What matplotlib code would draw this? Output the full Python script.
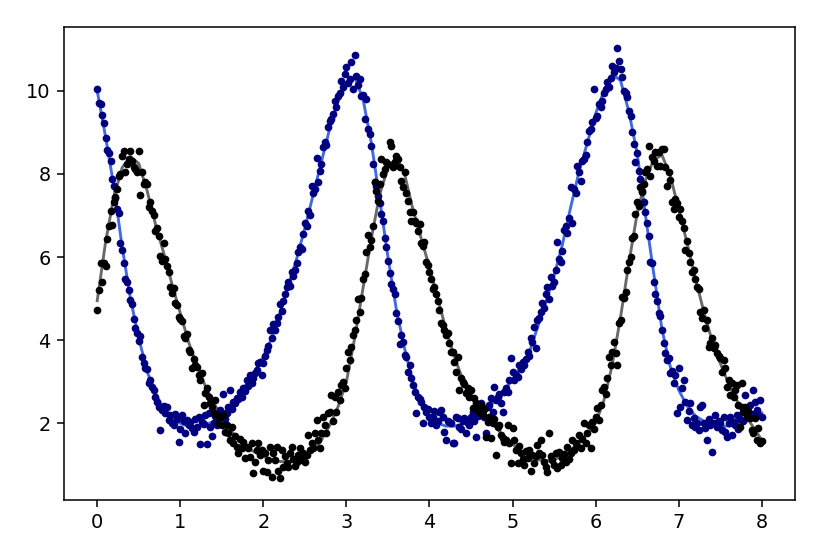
import numpy as np
import matplotlib
matplotlib.use("Agg")
import matplotlib.pyplot as plt

# time grids
T_OBS = np.linspace(0, 8, 401)   # observations every 0.02
T_FIT = np.linspace(0, 8, 81)    # fitted curves every 0.1

# fitted prey curve (blue line)
prey_fit = [
    10.0, 8.9, 7.7, 6.25, 5.0, 4.05, 3.25, 2.72, 2.35, 2.12,
    2.0, 1.92, 1.9, 1.95, 2.05, 2.2, 2.4, 2.65, 2.95, 3.25,
    3.6, 4.05, 4.65, 5.3, 5.95, 6.7, 7.5, 8.3, 9.1, 9.75,
    10.15, 10.33, 9.8, 8.75, 7.4, 6.0, 4.75, 3.8, 3.0, 2.5,
    2.15, 2.0, 1.93, 1.93, 1.98, 2.08, 2.2, 2.35, 2.58, 2.8,
    3.05, 3.35, 3.7, 4.3, 4.9, 5.55, 6.3, 7.2, 8.05, 8.75,
    9.45, 10.0, 10.4, 10.25, 9.5, 8.5, 7.0, 5.6, 4.25, 3.35,
    2.8, 2.42, 2.18, 2.05, 1.97, 1.93, 1.93, 1.96, 2.03, 2.12,
    2.25,
]

# fitted predator curve (grey line)
pred_fit = [
    4.95, 6.35, 7.45, 8.15, 8.42, 8.25, 7.6, 6.8, 6.1, 5.35,
    4.65, 3.95, 3.4, 2.9, 2.5, 2.15, 1.85, 1.6, 1.42, 1.3,
    1.2, 1.12, 1.08, 1.07, 1.1, 1.2, 1.35, 1.6, 1.95, 2.4,
    3.0, 4.05, 5.25, 6.45, 7.5, 8.15, 8.4, 8.0, 7.15, 6.45,
    5.75, 5.0, 4.25, 3.6, 3.05, 2.7, 2.35, 2.12, 1.9, 1.68,
    1.5, 1.32, 1.2, 1.12, 1.1, 1.13, 1.2, 1.35, 1.55, 1.75,
    2.0, 2.55, 3.4, 4.55, 5.85, 7.05, 7.85, 8.35, 8.45, 7.95,
    7.15, 6.35, 5.5, 4.7, 4.0, 3.45, 2.95, 2.55, 2.2, 1.9,
    1.6,
]

# noisy prey observations (navy dots)
prey_obs = [
    10.04, 9.70, 9.68, 9.42, 9.22, 8.87, 8.58, 8.50, 8.31, 7.87,
    7.72, 7.42, 7.15, 7.05, 6.33, 6.18, 5.85, 5.46, 5.40, 5.21,
    4.96, 4.86, 4.52, 4.30, 4.18, 3.98, 4.09, 3.60, 3.45, 3.34,
    3.30, 2.97, 3.05, 2.88, 2.80, 2.64, 2.52, 2.40, 1.84, 2.32,
    2.42, 2.24, 2.38, 2.08, 2.20, 2.00, 1.95, 2.22, 2.10, 1.55,
    1.85, 2.20, 2.05, 1.76, 2.08, 1.96, 2.02, 1.89, 1.78, 2.10,
    1.90, 2.15, 1.50, 2.02, 1.98, 2.20, 1.50, 2.25, 1.92, 1.70,
    2.00, 2.18, 1.95, 2.12, 2.32, 2.25, 2.70, 2.10, 2.25, 2.38,
    2.80, 2.35, 2.50, 2.48, 2.60, 2.58, 2.76, 2.62, 2.85, 2.78,
    3.05, 2.90, 3.17, 2.98, 3.10, 3.20, 3.28, 3.45, 3.48, 3.17,
    3.45, 3.62, 3.77, 3.85, 4.25, 4.05, 4.40, 4.25, 4.42, 4.55,
    4.86, 4.70, 4.95, 5.10, 5.27, 5.41, 5.30, 5.63, 5.55, 5.70,
    5.85, 6.13, 6.25, 6.20, 6.55, 6.83, 6.75, 7.10, 7.00, 7.70,
    7.55, 7.63, 8.38, 7.80, 8.07, 8.25, 8.65, 8.77, 8.70, 9.13,
    9.28, 9.32, 9.45, 9.76, 9.60, 9.88, 9.95, 10.24, 10.10, 10.41,
    10.58, 10.20, 10.29, 10.70, 10.05, 10.87, 10.35, 10.15, 10.29, 9.88,
    9.90, 9.33, 9.80, 9.09, 8.95, 8.68, 8.24, 7.80, 7.70, 7.47,
    7.30, 7.03, 6.86, 6.47, 6.23, 5.90, 5.62, 5.34, 5.22, 5.10,
    4.66, 4.45, 3.90, 4.13, 3.95, 3.65, 3.60, 3.24, 3.41, 3.10,
    2.93, 2.76, 2.25, 2.64, 2.58, 2.51, 2.00, 2.40, 2.27, 2.35,
    2.15, 2.00, 2.15, 2.30, 1.95, 2.05, 2.27, 2.32, 2.15, 1.79,
    1.60, 2.05, 2.03, 2.00, 1.52, 1.52, 2.15, 2.12, 1.91, 1.85,
    2.05, 2.12, 1.76, 2.00, 1.95, 2.15, 2.27, 2.05, 1.67, 2.18,
    2.20, 2.49, 2.30, 2.15, 1.76, 2.38, 2.45, 2.61, 2.27, 2.88,
    2.55, 2.62, 2.70, 2.49, 2.27, 2.76, 2.85, 2.76, 3.05, 3.58,
    3.24, 3.05, 3.15, 3.12, 3.41, 3.30, 3.48, 3.40, 3.55, 3.72,
    3.62, 4.06, 3.96, 4.32, 3.81, 4.49, 4.54, 4.68, 4.90, 4.78,
    5.10, 5.29, 5.00, 5.53, 5.30, 5.39, 5.70, 6.37, 5.95, 5.87,
    6.15, 6.66, 6.74, 6.59, 6.95, 7.68, 6.83, 7.63, 7.55, 8.19,
    8.04, 7.82, 8.30, 8.36, 8.45, 8.77, 9.04, 9.08, 9.25, 10.05,
    9.35, 9.40, 9.69, 9.60, 9.76, 9.95, 10.05, 10.22, 10.10, 10.30,
    10.61, 10.46, 10.55, 11.02, 10.73, 10.53, 10.34, 10.00, 9.95, 9.86,
    9.52, 9.40, 9.01, 8.72, 8.29, 8.50, 8.07, 7.87, 7.56, 7.32,
    7.08, 6.83, 6.50, 5.89, 5.85, 5.39, 5.10, 4.93, 4.66, 4.58,
    4.25, 3.94, 3.70, 3.53, 3.58, 3.21, 3.25, 2.98, 3.17, 2.25,
    3.34, 2.39, 2.85, 3.05, 2.52, 2.08, 2.30, 2.49, 1.96, 2.13,
    1.91, 2.00, 1.83, 2.39, 2.44, 2.00, 1.88, 1.59, 2.10, 1.96,
    1.31, 2.00, 2.20, 1.91, 2.05, 2.00, 1.83, 2.15, 1.79, 1.67,
    2.00, 2.15, 1.72, 2.03, 1.95, 2.20, 1.85, 2.10, 2.39, 2.05,
    2.68, 2.32, 2.15, 2.44, 2.22, 2.80, 2.51, 2.32, 2.20, 2.55,
    2.15,
]

# noisy predator observations (black dots)
pred_obs = [
    4.73, 5.21, 5.86, 5.39, 5.86, 5.78, 6.43, 6.74, 7.12, 6.76,
    7.32, 7.44, 7.63, 7.95, 7.99, 8.43, 8.55, 8.04, 8.24, 8.36,
    8.55, 8.31, 8.16, 8.12, 8.04, 8.55, 7.49, 8.05, 7.75, 7.80,
    7.75, 7.20, 7.32, 7.10, 7.00, 6.62, 6.70, 6.50, 6.02, 5.90,
    6.35, 5.95, 5.78, 5.63, 5.29, 5.14, 5.26, 4.90, 4.85, 4.56,
    4.50, 4.45, 4.09, 4.06, 4.15, 3.77, 3.72, 3.34, 3.55, 3.41,
    3.36, 3.17, 3.05, 3.20, 2.44, 2.73, 2.85, 2.64, 2.49, 2.40,
    2.25, 2.55, 2.20, 2.00, 2.15, 1.96, 2.20, 1.79, 1.96, 1.76,
    1.60, 1.90, 1.52, 1.70, 1.43, 1.28, 1.62, 1.40, 1.55, 1.16,
    1.43, 1.40, 1.19, 1.52, 0.80, 1.06, 1.35, 1.52, 1.23, 1.35,
    0.86, 1.28, 0.82, 1.11, 1.43, 0.71, 1.28, 1.11, 1.43, 0.86,
    0.67, 1.35, 0.95, 1.20, 1.04, 0.95, 1.28, 1.43, 1.15, 0.98,
    1.06, 1.23, 1.40, 1.12, 1.28, 1.06, 1.23, 1.71, 1.35, 1.52,
    1.40, 1.76, 2.08, 1.60, 1.40, 1.76, 2.15, 1.96, 1.76, 2.25,
    2.27, 2.68, 2.05, 2.64, 2.27, 2.76, 2.55, 2.93, 3.00, 2.85,
    3.34, 3.72, 3.53, 3.84, 4.13, 4.25, 4.49, 4.98, 4.68, 5.02,
    5.46, 5.58, 6.13, 6.54, 6.23, 6.42, 6.75, 7.80, 7.58, 7.34,
    7.75, 8.36, 7.99, 8.12, 8.29, 8.24, 8.77, 8.68, 8.17, 8.29,
    8.43, 8.35, 8.17, 7.82, 7.68, 8.05, 7.55, 7.35, 7.08, 6.86,
    7.08, 6.86, 6.83, 6.62, 6.79, 6.35, 6.26, 6.37, 5.87, 5.82,
    5.63, 5.46, 5.22, 5.27, 5.10, 4.93, 4.73, 4.42, 4.37, 4.25,
    4.13, 4.18, 3.94, 3.72, 3.72, 3.48, 3.24, 3.60, 2.80, 3.10,
    3.00, 2.95, 2.73, 2.85, 2.64, 2.80, 2.37, 2.61, 2.48, 2.40,
    2.27, 2.44, 2.20, 2.35, 1.67, 2.03, 2.15, 1.64, 2.00, 2.10,
    1.23, 1.91, 1.96, 1.72, 1.64, 1.55, 1.60, 1.96, 1.52, 1.04,
    1.88, 1.60, 1.35, 1.04, 1.45, 1.28, 1.15, 0.99, 1.32, 1.16,
    1.35, 0.86, 1.23, 1.05, 1.20, 1.48, 1.28, 1.60, 1.23, 1.06,
    0.95, 0.82, 1.76, 1.20, 1.11, 1.00, 1.28, 0.92, 1.30, 0.99,
    1.16, 1.25, 1.06, 1.43, 1.15, 1.28, 1.60, 1.35, 1.52, 1.45,
    1.71, 1.40, 1.62, 2.00, 1.52, 1.76, 1.95, 1.40, 2.03, 1.85,
    2.15, 2.37, 2.08, 2.44, 2.80, 2.88, 2.70, 3.10, 3.60, 3.41,
    3.72, 3.96, 3.70, 3.41, 4.42, 4.49, 5.05, 5.02, 5.17, 5.70,
    5.87, 5.99, 6.47, 6.50, 7.03, 7.32, 7.22, 7.68, 7.58, 7.75,
    8.04, 8.12, 8.68, 7.95, 8.41, 8.31, 8.53, 8.19, 8.53, 8.19,
    8.60, 8.60, 8.17, 7.70, 8.04, 7.85, 7.32, 7.15, 7.39, 7.30,
    6.96, 7.15, 6.86, 6.70, 6.18, 6.38, 6.10, 5.87, 5.63, 5.70,
    5.46, 5.29, 5.22, 4.68, 4.54, 4.72, 4.30, 4.49, 3.84, 3.94,
    4.05, 3.80, 3.89, 3.70, 3.62, 3.58, 3.24, 3.53, 3.34, 2.88,
    3.05, 2.68, 2.97, 2.64, 2.80, 2.93, 2.44, 1.91, 2.97, 2.27,
    2.39, 2.15, 2.30, 2.13, 1.84, 1.76, 2.13, 1.60, 1.88, 1.52,
    1.58,
]

fig = plt.figure(figsize=(6, 554 / 138.333), dpi=138.333)
ax = fig.add_axes([0.0771, 0.0975, 0.8807, 0.8538])

ax.plot(T_FIT, prey_fit, color="royalblue", lw=1.5, zorder=1)
ax.plot(T_FIT, pred_fit, color="dimgray", lw=1.5, zorder=1)
ax.plot(T_OBS, prey_obs, ".", color="navy", zorder=2)
ax.plot(T_OBS, pred_obs, ".", color="black", zorder=3)

ax.set_yticks([2, 4, 6, 8, 10])
fig.savefig("out.png", dpi=138.333)
